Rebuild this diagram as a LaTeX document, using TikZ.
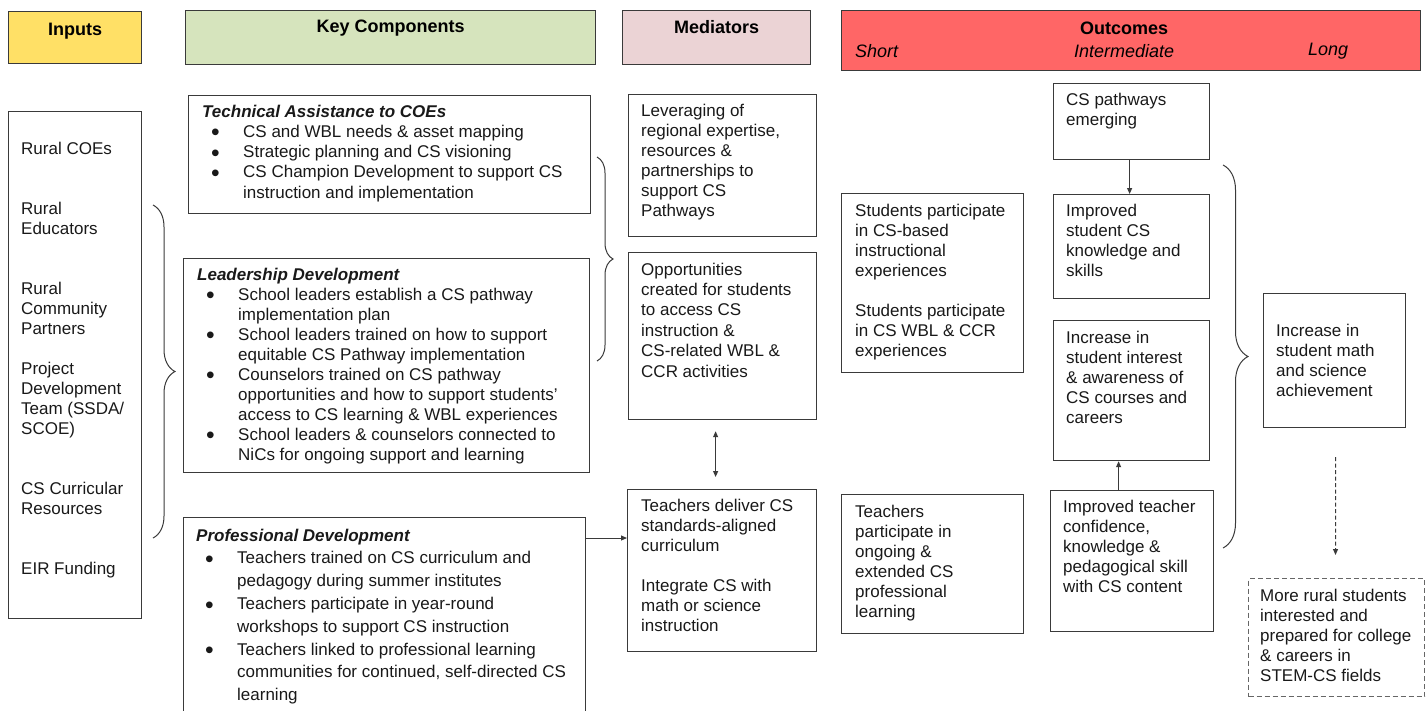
\documentclass[tikz,border=0pt]{standalone}
\usepackage{fontspec}
\setmainfont{Liberation Sans}
\usetikzlibrary{calc,arrows.meta,decorations.pathreplacing}
\definecolor{inyellow}{HTML}{FFE066}
\definecolor{kcgreen}{HTML}{D6E4BD}
\definecolor{medpink}{HTML}{EBD3D5}
\definecolor{outred}{HTML}{FF6666}
\definecolor{linegray}{HTML}{3A3A3A}
\newcommand{\kbul}{\hspace*{9pt}\makebox[32pt][l]{\raisebox{-3.6pt}[0pt][0pt]{\scalebox{1.45}{•}}}}
\newcommand{\kcont}{\hspace*{41pt}}
\begin{document}
\begin{tikzpicture}[x=1pt,y=-1pt,
  box/.style={draw=linegray, line width=1.2pt, rectangle, inner sep=0pt, anchor=north west},
  txt/.style={font=\fontsize{17}{20}\selectfont, align=left, inner sep=0pt, anchor=north west, text=black!90},
  hdr/.style={font=\fontsize{18}{21}\selectfont\bfseries, inner sep=0pt},
  sub/.style={font=\fontsize{18}{21}\selectfont\itshape, inner sep=0pt},
  arr/.style={draw=linegray, line width=1pt, -{Triangle[length=6pt,width=5pt]}},
  brc/.style={draw=linegray, line width=1pt, decorate, decoration={brace, amplitude=#1}}
]
\useasboundingbox (0,0) rectangle (1427,710);

% header boxes
\node[box, fill=inyellow, minimum width=133pt, minimum height=52pt] (hIn) at (8,11) {};
\node[box, fill=kcgreen, minimum width=410pt, minimum height=54pt] (hKC) at (185,10) {};
\node[box, fill=medpink, minimum width=188pt, minimum height=54pt] (hMed) at (622,10) {};
\node[box, fill=outred, minimum width=579pt, minimum height=60pt] (hOut) at (841,10) {};
\node[hdr] (tIn) at ($(hIn.north)+(0,20)$) {Inputs};
\node[hdr] (tKC) at ($(hKC.north)+(0,18)$) {Key Components};
\node[hdr] (tMed) at ($(hMed.north)+(0,17)$) {Mediators};
\node[hdr] (tOut) at ($(hOut.north)+(-7,18)$) {Outcomes};
\node[sub, anchor=west] (tShort) at ($(hOut.north west)+(14,41)$) {Short};
\node[sub] (tInter) at ($(hOut.north)+(-7,41)$) {Intermediate};
\node[sub, anchor=west] (tLong) at ($(hOut.north west)+(467,41)$) {Long};

% inputs
\node[box, minimum width=133pt, minimum height=507pt] (inp) at (8,111) {};
\node[txt] (inpT) at ($(inp.north west)+(13,30.5)$) {Rural COEs\\[40pt]Rural\\Educators\\[40pt]Rural\\Community\\Partners\\[20pt]Project\\Development\\Team (SSDA/\\SCOE)\\[40pt]CS Curricular\\Resources\\[40pt]EIR Funding};

% key components
\node[box, minimum width=402pt, minimum height=118pt] (ta) at (188,95) {};
\node[txt, font=\fontsize{17}{20.3}\selectfont] (taT) at ($(ta.north west)+(14,9.5)$) {\textbf{\textit{Technical Assistance to COEs}}\\
\kbul CS and WBL needs \& asset mapping\\
\kbul Strategic planning and CS visioning\\
\kbul CS Champion Development to support CS\\
\kcont instruction and implementation};

\node[box, minimum width=406pt, minimum height=214pt] (ld) at (183,258) {};
\node[txt] (ldT) at ($(ld.north west)+(14,9.5)$) {\textbf{\textit{Leadership Development}}\\
\kbul School leaders establish a CS pathway\\
\kcont implementation plan\\
\kbul School leaders trained on how to support\\
\kcont equitable CS Pathway implementation\\
\kbul Counselors trained on CS pathway\\
\kcont opportunities and how to support students'\\
\kcont access to CS learning \& WBL experiences\\
\kbul School leaders \& counselors connected to\\
\kcont NiCs for ongoing support and learning};

\node[box, minimum width=402pt, minimum height=215pt] (pd) at (183,517) {};
\node[txt, font=\fontsize{17}{22.8}\selectfont] (pdT) at ($(pd.north west)+(13,11.5)$) {\textbf{\textit{Professional Development}}\\
\kbul Teachers trained on CS curriculum and\\
\kcont pedagogy during summer institutes\\
\kbul Teachers participate in year-round\\
\kcont workshops to support CS instruction\\
\kbul Teachers linked to professional learning\\
\kcont communities for continued, self-directed CS\\
\kcont learning};

% mediators
\node[box, minimum width=188pt, minimum height=142pt] (m1) at (628,94) {};
\node[txt] (m1T) at ($(m1.north west)+(13,9.5)$) {Leveraging of\\regional expertise,\\resources \&\\partnerships to\\support CS\\Pathways};
\node[box, minimum width=188pt, minimum height=167pt] (m2) at (628,252) {};
\node[txt, font=\fontsize{17}{20.4}\selectfont] (m2T) at ($(m2.north west)+(13,10.5)$) {Opportunities\\created for students\\to access CS\\instruction \&\\CS-related WBL \&\\CCR activities};
\node[box, minimum width=189pt, minimum height=162pt] (m3) at (627,489) {};
\node[txt] (m3T) at ($(m3.north west)+(14,9.5)$) {Teachers deliver CS\\standards-aligned\\curriculum\\[20pt]Integrate CS with\\math or science\\instruction};

% short outcomes
\node[box, minimum width=182pt, minimum height=179pt] (s1) at (841,193) {};
\node[txt] (s1T) at ($(s1.north west)+(14,10.5)$) {Students participate\\in CS-based\\instructional\\experiences\\[20pt]Students participate\\in CS WBL \& CCR\\experiences};
\node[box, minimum width=182pt, minimum height=139pt] (s2) at (841,494) {};
\node[txt] (s2T) at ($(s2.north west)+(14,10.5)$) {Teachers\\participate in\\ongoing \&\\extended CS\\professional\\learning};

% intermediate outcomes
\node[box, minimum width=156pt, minimum height=76pt] (i1) at (1053,83) {};
\node[txt] (i1T) at ($(i1.north west)+(13,9.5)$) {CS pathways\\emerging};
\node[box, minimum width=156pt, minimum height=104pt] (i2) at (1053,194) {};
\node[txt] (i2T) at ($(i2.north west)+(13,9.5)$) {Improved\\student CS\\knowledge and\\skills};
\node[box, minimum width=156pt, minimum height=140pt] (i3) at (1053,320) {};
\node[txt] (i3T) at ($(i3.north west)+(13,10.5)$) {Increase in\\student interest\\\& awareness of\\CS courses and\\careers};
\node[box, minimum width=163pt, minimum height=141pt] (i4) at (1050,490) {};
\node[txt] (i4T) at ($(i4.north west)+(13,9.5)$) {Improved teacher\\confidence,\\knowledge \&\\pedagogical skill\\with CS content};

% long outcomes
\node[box, minimum width=142pt, minimum height=134pt] (l1) at (1263,293) {};
\node[txt] (l1T) at ($(l1.north west)+(13,30.5)$) {Increase in\\student math\\and science\\achievement};
\node[box, dashed, dash pattern=on 5pt off 3pt, line width=1pt, draw=black!60, minimum width=176pt, minimum height=118pt] (l2) at (1248,578) {};
\node[txt] (l2T) at ($(l2.north west)+(12,10.5)$) {More rural students\\interested and\\prepared for college\\\& careers in\\STEM-CS fields};

% connectors
\draw[arr] ($(pd.north east)+(0,21)$) -- ($(m3.north west)+(0,49)$);
\draw[arr, {Triangle[length=6pt,width=5pt]}-{Triangle[length=6pt,width=5pt]}] ($(m2.south)+(-7,11)$) -- ($(m3.north)+(-6.5,-12)$);
\draw[arr] ($(i1.south)+(-2,0)$) -- ($(i2.north)+(-2,0)$);
\draw[arr] ($(i4.north)+(-13.5,0)$) -- ($(i3.south)+(-13,0)$);
\draw[arr, dash pattern=on 4pt off 2.5pt] ($(l1.south)+(1,29)$) -- ($(l2.north)+(-1,-23)$);

% braces
\coordinate (b1t) at (153,205);
\coordinate (b1b) at (153,538);
\coordinate (b2t) at (597,157);
\coordinate (b2b) at (597,361);
\coordinate (b3t) at (1223,165);
\coordinate (b3b) at (1223,548);
\draw[brc=22] (b1t) -- (b1b);
\draw[brc=16] (b2t) -- (b2b);
\draw[brc=25] (b3t) -- (b3b);
\end{tikzpicture}
\end{document}
